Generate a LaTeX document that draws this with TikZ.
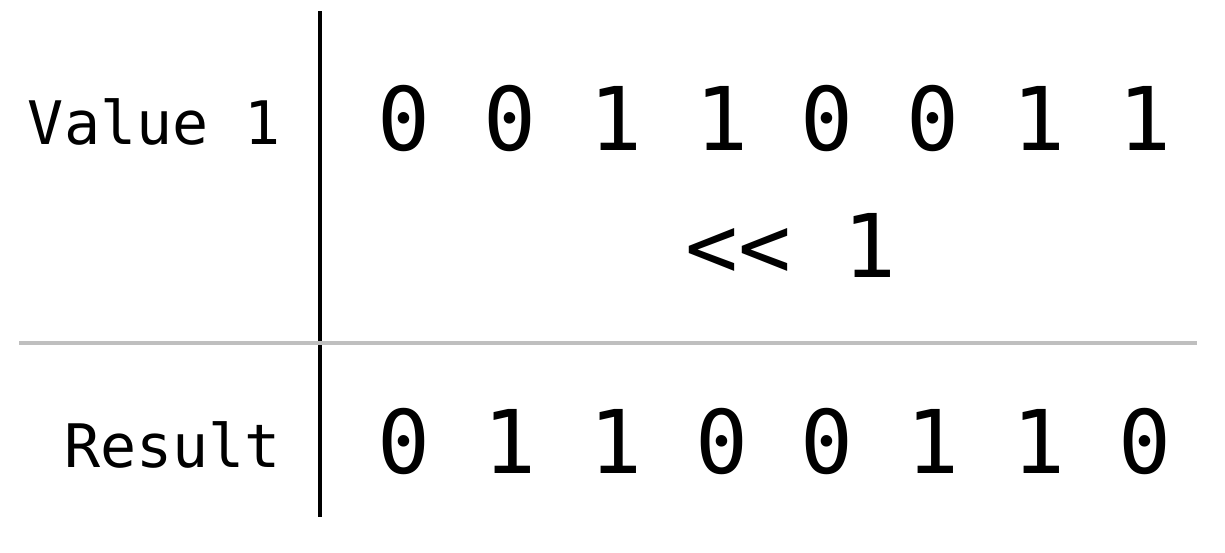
\documentclass[tikz,border=0pt]{standalone}
\usepackage{fontspec}
\newfontfamily\monofont[RawFeature=+zero]{DejaVu Sans Mono}
\definecolor{rulegray}{HTML}{BFBFBF}
\tikzset{
  bits/.style={inner sep=0pt, anchor=base, font=\monofont\fontsize{87.9pt}{88pt}\selectfont},
  rowlabel/.style={inner sep=0pt, anchor=base east, font=\monofont\fontsize{60pt}{60pt}\selectfont},
  divider/.style={line width=4pt, black},
  separator/.style={line width=4pt, rulegray},
}
\begin{document}
\begin{tikzpicture}[x=1pt,y=-1pt]
\useasboundingbox (0,0) rectangle (1225,552);
\coordinate (vtop) at (320,11);
\coordinate (vbot) at (320,517);
\coordinate (hleft) at (19,343);
\coordinate (hright) at (1197,343);
\draw[divider] (vtop) -- (vbot);
\draw[separator] (hleft) -- (hright);
\node[rowlabel] (lab1) at (281,144) {Value 1};
\node[rowlabel] (lab2) at (281,467) {Result};
\node[bits] (val1) at (774.5,150) {0 0 1 1 0 0 1 1};
\node[bits] (shift) at (791,277) {<< 1};
\node[bits] (res) at (774.5,473) {0 1 1 0 0 1 1 0};
\end{tikzpicture}
\end{document}
